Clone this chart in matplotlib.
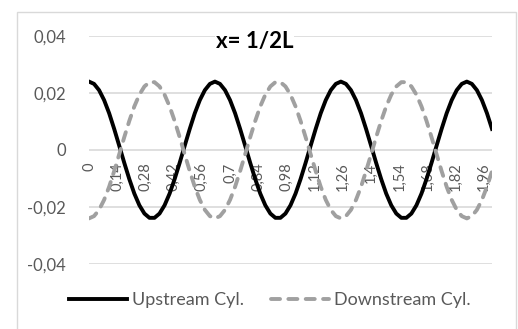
import matplotlib
matplotlib.use("Agg")
import matplotlib.pyplot as plt
from matplotlib.patches import Rectangle

plt.rcParams["font.family"] = ["Lato", "DejaVu Sans"]
plt.rcParams["lines.scale_dashes"] = False

# pressure signal at x = 1/2 L, sampled every 0.025 s
time = [
    0.000, 0.025, 0.050, 0.075, 0.100, 0.125, 0.150, 0.175, 0.200, 0.225,
    0.250, 0.275, 0.300, 0.325, 0.350, 0.375, 0.400, 0.425, 0.450, 0.475,
    0.500, 0.525, 0.550, 0.575, 0.600, 0.625, 0.650, 0.675, 0.700, 0.725,
    0.750, 0.775, 0.800, 0.825, 0.850, 0.875, 0.900, 0.925, 0.950, 0.975,
    1.000, 1.025, 1.050, 1.075, 1.100, 1.125, 1.150, 1.175, 1.200, 1.225,
    1.250, 1.275, 1.300, 1.325, 1.350, 1.375, 1.400, 1.425, 1.450, 1.475,
    1.500, 1.525, 1.550, 1.575, 1.600, 1.625, 1.650, 1.675, 1.700, 1.725,
    1.750, 1.775, 1.800, 1.825, 1.850, 1.875, 1.900, 1.925, 1.950, 1.975,
    2.000,
]
upstream = [
    0.0240, 0.0232, 0.0210, 0.0175, 0.0129, 0.0074, 0.0015, -0.0045, -0.0102, -0.0153,
    -0.0194, -0.0223, -0.0238, -0.0238, -0.0223, -0.0194, -0.0153, -0.0102, -0.0045, 0.0015,
    0.0074, 0.0129, 0.0175, 0.0210, 0.0232, 0.0240, 0.0232, 0.0210, 0.0175, 0.0129,
    0.0074, 0.0015, -0.0045, -0.0102, -0.0153, -0.0194, -0.0223, -0.0238, -0.0238, -0.0223,
    -0.0194, -0.0153, -0.0102, -0.0045, 0.0015, 0.0074, 0.0129, 0.0175, 0.0210, 0.0232,
    0.0240, 0.0232, 0.0210, 0.0175, 0.0129, 0.0074, 0.0015, -0.0045, -0.0102, -0.0153,
    -0.0194, -0.0223, -0.0238, -0.0238, -0.0223, -0.0194, -0.0153, -0.0102, -0.0045, 0.0015,
    0.0074, 0.0129, 0.0175, 0.0210, 0.0232, 0.0240, 0.0232, 0.0210, 0.0175, 0.0129,
    0.0074,
]
downstream = [
    -0.0240, -0.0232, -0.0210, -0.0175, -0.0129, -0.0074, -0.0015, 0.0045, 0.0102, 0.0153,
    0.0194, 0.0223, 0.0238, 0.0238, 0.0223, 0.0194, 0.0153, 0.0102, 0.0045, -0.0015,
    -0.0074, -0.0129, -0.0175, -0.0210, -0.0232, -0.0240, -0.0232, -0.0210, -0.0175, -0.0129,
    -0.0074, -0.0015, 0.0045, 0.0102, 0.0153, 0.0194, 0.0223, 0.0238, 0.0238, 0.0223,
    0.0194, 0.0153, 0.0102, 0.0045, -0.0015, -0.0074, -0.0129, -0.0175, -0.0210, -0.0232,
    -0.0240, -0.0232, -0.0210, -0.0175, -0.0129, -0.0074, -0.0015, 0.0045, 0.0102, 0.0153,
    0.0194, 0.0223, 0.0238, 0.0238, 0.0223, 0.0194, 0.0153, 0.0102, 0.0045, -0.0015,
    -0.0074, -0.0129, -0.0175, -0.0210, -0.0232, -0.0240, -0.0232, -0.0210, -0.0175, -0.0129,
    -0.0074,
]

x_ticks = [0, 0.14, 0.28, 0.42, 0.56, 0.70, 0.84, 0.98, 1.12, 1.26, 1.40, 1.54, 1.68, 1.82, 1.96]
x_labels = ["0", "0,14", "0,28", "0,42", "0,56", "0,7", "0,84", "0,98",
            "1,12", "1,26", "1,4", "1,54", "1,68", "1,82", "1,96"]
y_ticks = [-0.04, -0.02, 0, 0.02, 0.04]
y_labels = ["-0,04", "-0,02", "0", "0,02", "0,04"]

GRID = "#d9d9d9"
TEXT = "#595959"
W, H = 518, 329

fig = plt.figure(figsize=(W / 100, H / 100), dpi=100)
# chart border
fig.patches.append(Rectangle((16.5 / W, -0.05), (516 - 16.5) / W, 1.05 - 12.5 / H,
                             transform=fig.transFigure, fill=False,
                             edgecolor=GRID, lw=1))

ax = fig.add_axes([89 / W, 65 / H, 403 / W, 228 / H])
ax.plot(time, upstream, color="black", lw=2.8, zorder=3, label="Upstream Cyl.")
ax.plot(time, downstream, color="#a0a0a0", lw=2.8, dashes=(6.5, 6),
        dash_capstyle="round", zorder=3, label="Downstream Cyl.")

ax.set_xlim(0, 2.0)
ax.set_ylim(-0.04, 0.04)
ax.set_yticks(y_ticks)
ax.set_yticklabels(y_labels, color=TEXT, fontsize=12)
ax.set_xticks([])
ax.yaxis.grid(True, color=GRID, lw=1.2)
ax.set_axisbelow(True)
for s in ax.spines.values():
    s.set_visible(False)
ax.tick_params(axis="y", left=False, pad=13)

# category labels hang below the zero line
for p, lab in zip(x_ticks, x_labels):
    ax.annotate(lab, (p, 0), xytext=(0, -9), textcoords="offset points",
                rotation=90, ha="center", va="top", fontsize=10.5,
                color=TEXT, zorder=1)

fig.text(0.492, 0.875, "x= 1/2L", ha="center", va="center", fontsize=16,
         fontweight="bold", color="black",
         bbox=dict(facecolor="white", edgecolor="none", pad=0.5))

handles, labels = ax.get_legend_handles_labels()
fig.legend(handles, labels, loc="center", bbox_to_anchor=(0.521, 0.088),
           ncol=2, frameon=False, fontsize=13, handlelength=3.2,
           handletextpad=0.3, columnspacing=1.5, labelcolor=TEXT)

fig.savefig("out.png", dpi=100)
